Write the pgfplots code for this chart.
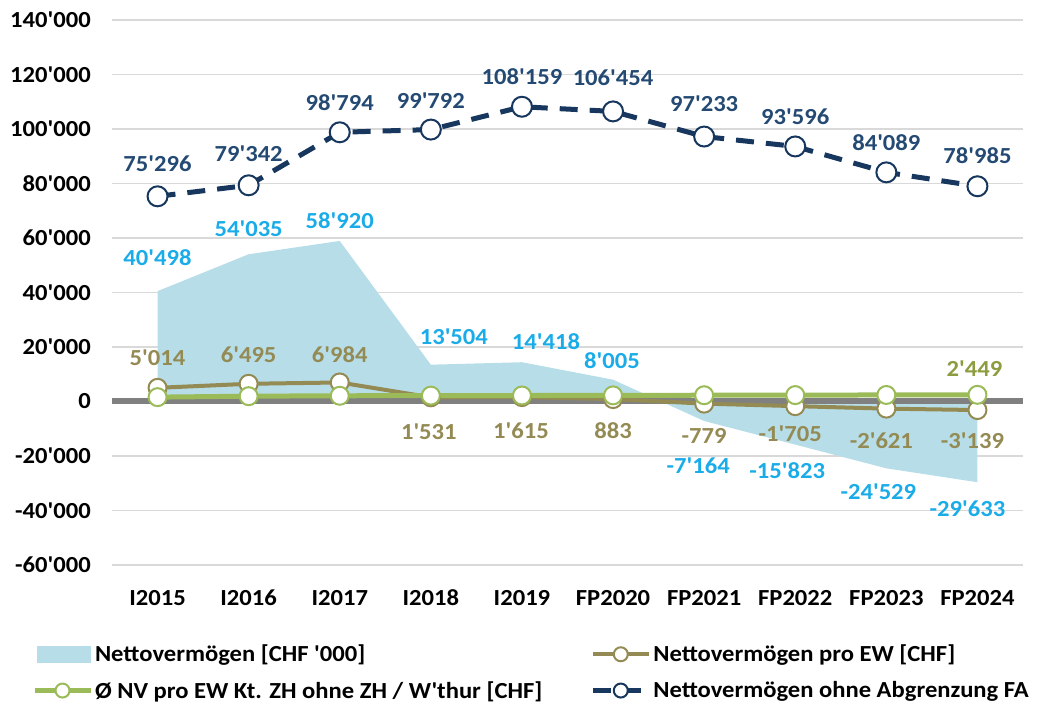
\documentclass[border=0pt]{standalone}
\usepackage{fontspec}
\setmainfont{Carlito}[FakeStretch=1.07, Ligatures=TeXOff]
\usepackage{pgfplots}
\pgfplotsset{compat=1.18}
\usepackage{pgfplotstable}

\definecolor{areablue}{HTML}{B7DEE8}
\definecolor{lblblue}{HTML}{1AACE8}
\definecolor{brownl}{HTML}{948A54}
\definecolor{greenl}{HTML}{9BBB59}
\definecolor{greenlab}{HTML}{8C9C3F}
\definecolor{navyl}{HTML}{17375E}
\definecolor{navylab}{HTML}{244A74}
\definecolor{zerogray}{HTML}{808080}
\definecolor{gridgray}{HTML}{D9D9D9}

\newcommand\tfont{\fontsize{23}{27}\selectfont\bfseries}

\pgfplotstableread{
x y lab dx dy
0 40498 40'498 0 33
1 54035 54'035 0 26
2 58920 58'920 0 20
3 13504 13'504 23 28
4 14418 14'418 24 21
5 8005 8'005 -1 19
6 -7164 -7'164 -6 -45
7 -15823 -15'823 -8 -26
8 -24529 -24'529 -8 -23
9 -29633 -29'633 -10 -26
}\tabA

\pgfplotstableread{
x y lab dx dy
0 5014 5'014 0 30
1 6495 6'495 0 29
2 6984 6'984 0 28
3 1531 1'531 -2 -34
4 1615 1'615 -1 -34
5 883 883 0 -32
6 -779 -779 0 -32
7 -1705 -1'705 -5 -28
8 -2621 -2'621 -5 -32
9 -3139 -3'139 -5 -31
}\tabB

\pgfplotstableread{
x y lab dx dy
0 1600 {} 0 0
1 1950 {} 0 0
2 2100 {} 0 0
3 2150 {} 0 0
4 2200 {} 0 0
5 2250 {} 0 0
6 2300 {} 0 0
7 2350 {} 0 0
8 2400 {} 0 0
9 2449 2'449 -3 26
}\tabC

\pgfplotstableread{
x y lab dx dy
0 75296 75'296 0 33
1 79342 79'342 0 32
2 98794 98'794 0 30
3 99792 99'792 0 29
4 108159 108'159 0 30
5 106454 106'454 0 34
6 97233 97'233 0 33
7 93596 93'596 0 30
8 84089 84'089 0 30
9 78985 78'985 0 31
}\tabD

\pgfplotsset{
  linelegend/.style={legend image code/.code={
      \draw[##1, mark=none] (0pt,0pt) -- (56pt,0pt);
      \draw[##1, solid, mark size=7pt] plot coordinates {(28pt,0pt)};
  }},
  arealegend/.style={legend image code/.code={
      \fill[areablue] (2pt,-8.5pt) rectangle (56pt,8.5pt);
  }},
  labelplot/.style={draw=none, mark=none, forget plot, nodes near coords,
      point meta=explicit symbolic,
      visualization depends on={\thisrow{dx}\as\dx},
      visualization depends on={\thisrow{dy}\as\dy},
      nodes near coords style={anchor=center, xshift=\dx pt, yshift=\dy pt,
         text=#1, font=\tfont, inner sep=0pt}},
}

\begin{document}
\begin{tikzpicture}
\useasboundingbox (0pt,0pt) rectangle (1049pt,709pt);
\begin{axis}[
  at={(112pt,144pt)}, anchor=south west,
  width=911pt, height=545pt, scale only axis,
  clip=false,
  xmin=-0.5, xmax=9.5, ymin=-60000, ymax=140000,
  scaled y ticks=false,
  xtick={0,...,9},
  xticklabels={I2015,I2016,I2017,I2018,I2019,FP2020,FP2021,FP2022,FP2023,FP2024},
  ytick={-60000,-40000,-20000,0,20000,40000,60000,80000,100000,120000,140000},
  yticklabels={-60'000,-40'000,-20'000,0,20'000,40'000,60'000,80'000,100'000,120'000,140'000},
  ymajorgrids, grid style={color=gridgray, line width=1.5pt},
  axis line style={draw=none}, major tick length=0pt,
  tick label style={font=\tfont, text=black},
  yticklabel style={inner sep=0pt, xshift=-21pt},
  xticklabel style={inner sep=0pt, yshift=-25pt, anchor=north, text height=15pt, text depth=0pt},
  legend columns=2,
  legend cell align=left,
  legend style={at={(-0.0878,-0.147)}, anchor=north west, draw=none, fill=none,
     inner sep=0pt, outer sep=0pt, row sep=18pt, font=\tfont,
     nodes={inner sep=0pt},
     /tikz/every odd column/.append style={column sep=2pt},
     /tikz/every even column/.append style={column sep=48pt}},
]
\addplot[fill=areablue, draw=none, arealegend] table[x=x, y=y] {\tabA} \closedcycle;
\addlegendentry{Nettovermögen [CHF '000]}
\addplot[forget plot, color=zerogray, line width=6pt] coordinates {(-0.5,0) (9.5,0)};
\addplot[color=brownl, line width=4pt, mark=*, mark size=9pt,
  mark options={fill=white, draw=brownl, line width=2pt}, linelegend] table[x=x, y=y] {\tabB};
\addlegendentry{Nettovermögen pro EW [CHF]}
\addplot[color=greenl, line width=5pt, mark=*, mark size=9pt,
  mark options={fill=white, draw=greenl, line width=2pt}, linelegend] table[x=x, y=y] {\tabC};
\addlegendentry{Ø NV pro EW Kt. ZH ohne ZH / W'thur [CHF]}
\addplot[color=navyl, line width=5pt, dash pattern=on 18pt off 12pt, mark=*, mark size=10pt,
  mark options={fill=white, draw=navyl, line width=2pt, solid}, linelegend] table[x=x, y=y] {\tabD};
\addlegendentry{Nettovermögen ohne Abgrenzung FA}
\addplot[labelplot=lblblue] table[x=x, y=y, meta=lab] {\tabA};
\addplot[labelplot=brownl] table[x=x, y=y, meta=lab] {\tabB};
\addplot[labelplot=greenlab] table[x=x, y=y, meta=lab] {\tabC};
\addplot[labelplot=navylab] table[x=x, y=y, meta=lab] {\tabD};
\end{axis}
\end{tikzpicture}
\end{document}
